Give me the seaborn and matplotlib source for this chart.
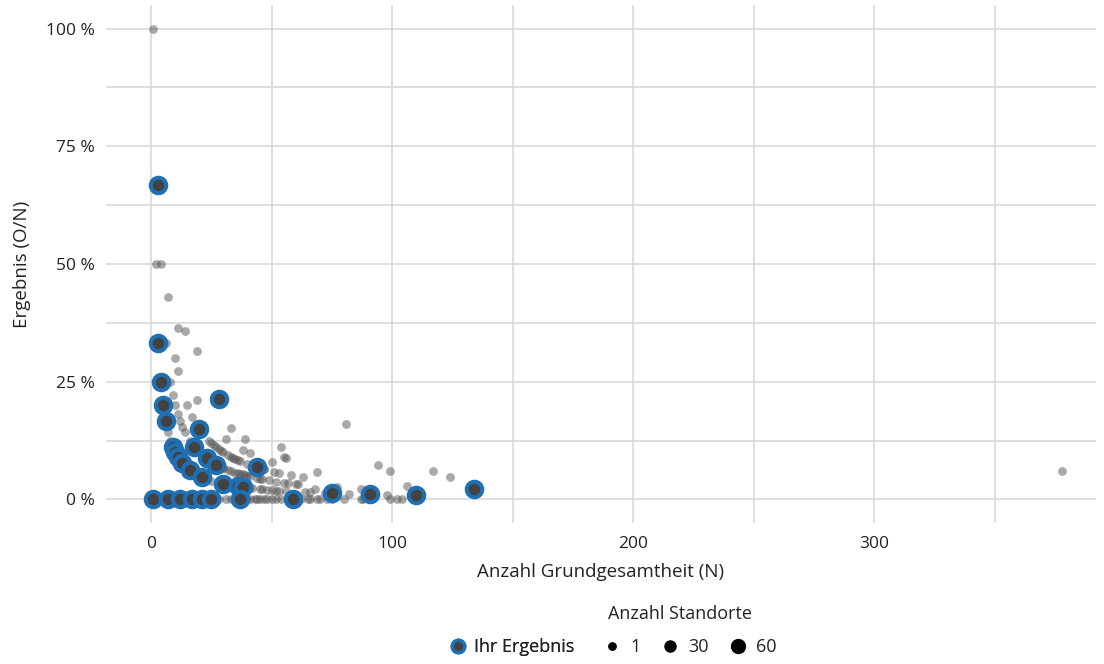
import matplotlib
matplotlib.use("Agg")
import matplotlib.pyplot as plt
from matplotlib.lines import Line2D
from matplotlib.ticker import MultipleLocator, FuncFormatter
import pandas as pd
import seaborn as sns

sns.set_theme(style="white")
plt.rcParams['font.family'] = ['Open Sans', 'DejaVu Sans']

TEXT = "#222222"
GRID = "#d6d6d6"
BLUE = "#1f6fb4"
DARK = "#424242"

# All sites: population size N and result O/N in percent
alle_n = [
    1, 2, 4, 7, 11, 14, 19, 10, 11, 8, 6, 3, 3, 9, 15, 19, 10, 11, 17, 13,
    12, 14, 7, 8, 16, 33, 31, 39, 25, 27, 38, 54, 55, 56, 50, 41, 36, 33, 30, 22,
    24, 26, 28, 32, 35, 40, 44, 46, 39, 53, 58, 63, 69, 48, 53, 56, 60, 64, 68, 77,
    82, 87, 81, 94, 99, 117, 124, 106, 98, 87, 102, 104, 378, 18, 20, 23, 25, 29, 34, 42,
    45, 52, 66, 72, 9, 12, 13, 16, 18, 21, 23, 24, 27, 28, 30, 37, 43, 47, 51,
    20, 26, 29, 32, 34, 35, 37, 40, 42, 44, 47, 30, 33, 36, 38, 41, 45, 49, 52, 55,
    34, 38, 41, 46, 50, 57, 61,
    2, 5, 8, 10, 14, 19, 23, 28, 31, 33, 40, 43, 45, 48, 50, 52, 54, 57, 62, 65,
    69, 75, 80, 88, 99, 35, 38, 41, 44, 47, 60, 66, 70, 73,
]
alle_quote = [
    100, 50, 50, 42.9, 36.4, 35.7, 31.6, 30, 27.3, 25, 33.3, 33.3, 66.7, 22.2, 20, 21.1, 20, 18.2, 17.6, 15.4,
    16.7, 14.3, 14.3, 12.5, 12.5, 15.2, 12.9, 12.8, 12, 11.1, 10.5, 11.1, 9.1, 8.9, 8, 9.8, 8.3, 9.1, 10, 9.1,
    8.3, 7.7, 7.1, 6.3, 5.7, 5, 4.5, 4.3, 5.1, 5.7, 5.2, 4.8, 5.8, 2.1, 1.9, 1.8, 3.3, 1.6, 2.2, 2.6,
    1.2, 2.3, 16, 7.4, 6.1, 6, 4.8, 2.8, 1, 0, 0, 0, 6, 5.6, 5, 4.3, 4, 3.4, 2.9, 2.4,
    2.2, 1.9, 1.5, 1.4, 11.1, 8.3, 7.7, 6.3, 11.1, 9.5, 8.7, 12.5, 7.4, 10.7, 6.7, 5.4, 7, 6.4, 5.9,
    10, 11.5, 10.3, 9.4, 8.8, 8.6, 8.1, 7.5, 7.1, 6.8, 6.4, 6.7, 6.1, 5.6, 5.3, 4.9, 4.4, 4.1, 3.8, 3.6,
    2.9, 2.6, 2.4, 2.2, 2, 3.5, 3.3,
    0, 0, 0, 0, 0, 0, 0, 0, 0, 0, 0, 0, 0, 0, 0, 0, 0, 0, 0, 0,
    0, 0, 0, 0, 0, 0, 0, 0, 0, 0, 0, 0, 0, 0,
]

# Own results
eigen_n = [3, 3, 4, 5, 6, 9, 10, 11, 13, 16, 18, 20, 21, 23, 27, 28, 30, 36, 38, 44,
           75, 91, 110, 134, 1, 7, 12, 17, 21, 25, 37, 59]
eigen_quote = [66.7, 33.3, 25, 20, 16.7, 11.1, 10, 9.1, 7.7, 6.3, 11.1, 15, 4.8, 8.7, 7.4, 21.4, 3.3, 2.8, 2.6, 6.8,
               1.3, 1.1, 0.9, 2.2, 0, 0, 0, 0, 0, 0, 0, 0]

# Size legend: number of sites
standorte_legende = [1, 30, 60]

alle = pd.DataFrame({"N": alle_n, "quote": alle_quote})
eigen = pd.DataFrame({"N": eigen_n, "quote": eigen_quote})

S_MIN, S_MAX = 28.0, 100.0


def size_of(k):
    return S_MIN + (k - 1) / (60 - 1) * (S_MAX - S_MIN)


fig = plt.figure(figsize=(11.04, 6.64), dpi=100)
ax = fig.add_axes([106 / 1104, 1 - 523 / 664, (1096 - 106) / 1104, (523 - 5) / 664])

sns.scatterplot(data=alle, x="N", y="quote", ax=ax, color="#555555", alpha=0.5,
                s=40, linewidth=0, legend=False, zorder=3)
sns.scatterplot(data=eigen, x="N", y="quote", ax=ax, color=DARK, edgecolor=BLUE,
                s=125, linewidth=2.9, legend=False, zorder=4)

ax.set_xlim(-18.7, 392)
ax.set_ylim(-5, 105)
ax.xaxis.set_major_locator(MultipleLocator(100))
ax.xaxis.set_minor_locator(MultipleLocator(50))
ax.yaxis.set_major_locator(MultipleLocator(25))
ax.yaxis.set_minor_locator(MultipleLocator(12.5))
ax.yaxis.set_major_formatter(FuncFormatter(lambda v, p: f"{v:.0f} %"))
ax.grid(which="both", color=GRID, linewidth=1.1, zorder=0)
ax.set_axisbelow(True)
for sp in ax.spines.values():
    sp.set_visible(False)
ax.tick_params(axis="both", which="both", length=0, labelsize=12.5, labelcolor=TEXT)
ax.tick_params(axis="x", pad=9)
ax.tick_params(axis="y", pad=8)
ax.set_xlabel("Anzahl Grundgesamtheit (N)", fontsize=13.5, color=TEXT, labelpad=8)
ax.set_ylabel("Ergebnis (O/N)", fontsize=13.5, color=TEXT, labelpad=11)

# Legends
own_handle = Line2D([], [], linestyle="none", marker="o", markersize=9,
                    markerfacecolor=DARK, markeredgecolor=BLUE, markeredgewidth=2.4)
leg1 = fig.legend(handles=[own_handle], labels=["Ihr Ergebnis"], loc="center left",
                  bbox_to_anchor=(431 / 1104, 1 - 647 / 664), frameon=False,
                  fontsize=13, handletextpad=0.3, handlelength=1.2, labelcolor=TEXT)
size_handles = [Line2D([], [], linestyle="none", marker="o", color="black",
                       markersize=size_of(k) ** 0.5) for k in standorte_legende]
leg2 = fig.legend(handles=size_handles, labels=[str(k) for k in standorte_legende],
                  loc="center left", bbox_to_anchor=(584 / 1104, 1 - 647 / 664), ncol=3,
                  frameon=False, fontsize=13, handletextpad=0.35, handlelength=1.3,
                  columnspacing=1.0, labelcolor=TEXT)
fig.add_artist(leg1)
fig.text(680 / 1104, 1 - 614 / 664, "Anzahl Standorte", ha="center", va="center",
         fontsize=13, color=TEXT)

fig.savefig("out.png", dpi=100, facecolor="white")
